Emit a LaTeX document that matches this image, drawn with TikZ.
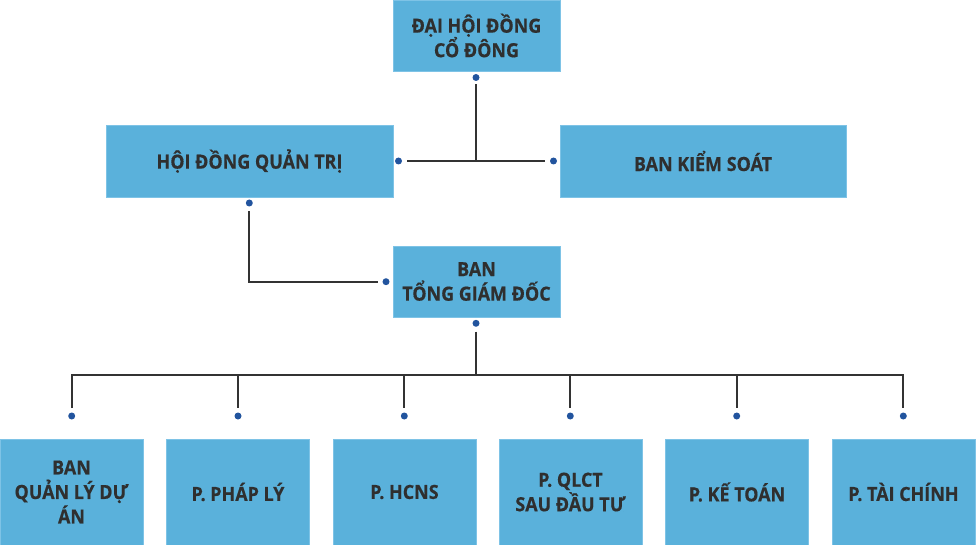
\documentclass[tikz,border=0pt]{standalone}
\usepackage{fontspec}
\setmainfont{Open Sans}[BoldFeatures={FakeStretch=0.92,FakeBold=0.4}]
\definecolor{boxfill}{HTML}{5AB1DB}
\definecolor{boxedge}{HTML}{7EC3E6}
\definecolor{dotblue}{HTML}{22549E}
\definecolor{linegrey}{HTML}{333333}
\definecolor{txt}{HTML}{2F2F2F}
\tikzset{
  orgbox/.style={rectangle, fill=boxfill, draw=boxedge, line width=0.8pt, inner sep=0pt, outer sep=0pt,
    align=center, text=txt, font=\fontsize{19.5}{24.5}\selectfont\bfseries},
  orgdot/.style={circle, fill=dotblue, inner sep=0pt, minimum size=7pt},
  conn/.style={draw=linegrey, line width=2pt}
}
\begin{document}
\begin{tikzpicture}[x=1pt,y=-1pt]
\useasboundingbox (0,0) rectangle (977,545);
% boxes
\node[orgbox, minimum width=167pt, minimum height=71pt] (dhdcd) at (476.5,35.5) {ĐẠI HỘI ĐỒNG\\CỔ ĐÔNG};
\node[orgbox, minimum width=287pt, minimum height=72pt] (hdqt) at (249.5,161) {HỘI ĐỒNG QUẢN TRỊ};
\node[orgbox, minimum width=286pt, minimum height=72pt] (bks) at (703,161) {BAN KIỂM SOÁT};
\node[orgbox, minimum width=167pt, minimum height=71pt] (btgd) at (476.5,281.5) {BAN\\TỔNG GIÁM ĐỐC};
\foreach \n/\cx/\t in {b1/71.5/{BAN\\QUẢN LÝ DỰ\\ÁN}, b2/238/{P. PHÁP LÝ}, b3/404.5/{P. HCNS},
  b4/570.5/{P. QLCT\\SAU ĐẦU TƯ}, b5/737/{P. KẾ TOÁN}, b6/903.5/{P. TÀI CHÍNH}}
  \node[orgbox, minimum width=143pt, minimum height=106pt] (\n) at (\cx,492) {\t};
% dots
\node[orgdot] (d0) at (476,77.5) {};
\node[orgdot] (dl) at (398.5,161) {};
\node[orgdot] (dr) at (553.5,161) {};
\node[orgdot] (dh) at (249.3,203) {};
\node[orgdot] (dt) at (386,281.7) {};
\node[orgdot] (db) at (476,323.3) {};
\foreach \n/\cx in {e1/71.7, e2/238, e3/404.3, e4/570.3, e5/736.7, e6/903.3}
  \node[orgdot] (\n) at (\cx,416) {};
% connector end points
\coordinate (t0) at (476,84.5);
\coordinate (tj) at (476,161);
\coordinate (tl) at (407,161);
\coordinate (tr) at (545,161);
\coordinate (h0) at (249.3,211.5);
\coordinate (hc) at (249.3,281.7);
\coordinate (h1) at (378,281.7);
\coordinate (g0) at (476,331.5);
\coordinate (gj) at (476,375.3);
\foreach \n/\cx in {f1/71.7, f2/238, f3/404.3, f4/570.3, f5/736.7, f6/903.3}{
  \coordinate (\n) at (\cx,408);
  \coordinate (\n u) at (\cx,375.3);
}
% connectors
\draw[conn] (t0) -- (tj);
\draw[conn] (tl) -- (tr);
\draw[conn] (h0) -- (hc) -- (h1);
\draw[conn] (g0) -- (gj);
\draw[conn] (f1) -- (f1u) -- (f6u) -- (f6);
\foreach \n in {f2,f3,f4,f5}
  \draw[conn] (\n u) -- (\n);
\end{tikzpicture}
\end{document}
